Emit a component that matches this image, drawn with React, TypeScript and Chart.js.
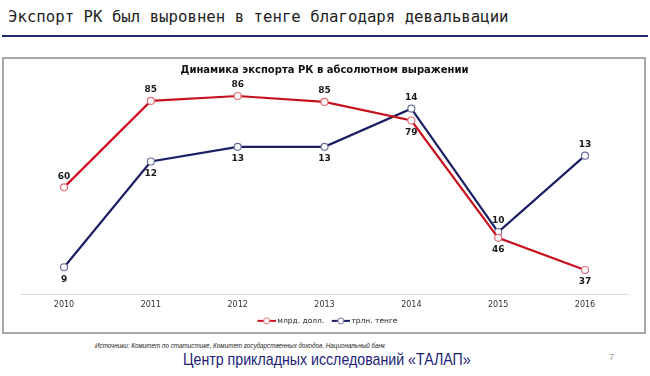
import React, { useEffect, useRef } from "react";
import { Chart, registerables } from "chart.js";

Chart.register(...registerables);

const years = ["2010", "2011", "2012", "2013", "2014", "2015", "2016"];
const usdBn = [60.3, 85.0, 86.4, 84.7, 79.4, 45.9, 36.7];
const kztTrn = [8.8, 12.4, 12.9, 12.9, 14.2, 10.0, 12.6];
const usdLabelSide = ["above", "above", "above", "above", "below", "below", "below"];
const kztLabelSide = ["below", "below", "below", "below", "above", "above", "above"];
const seriesNames = ["млрд. долл.", "трлн. тенге"];

const slideTitle = "Экспорт РК был выровнен в тенге благодаря девальвации";
const chartTitle = "Динамика экспорта РК в абсолютном выражении";
const sourceText = "Источники: Комитет по статистике, Комитет государственных доходов, Национальный банк";
const footerText = "Центр прикладных исследований «ТАЛАП»";
const pageNumber = "7";

const RED = "#c8101e";
const RED_PT = "#e0707a";
const BLUE = "#1b1f63";
const BLUE_PT = "#6c6f9c";

function legendSymbol(line: string, pt: string) {
  const c = document.createElement("canvas");
  c.width = 26;
  c.height = 8;
  const g = c.getContext("2d")!;
  g.strokeStyle = line;
  g.lineWidth = 2;
  g.beginPath();
  g.moveTo(8, 4);
  g.lineTo(26, 4);
  g.stroke();
  g.fillStyle = "#fff";
  g.strokeStyle = pt;
  g.lineWidth = 1;
  g.beginPath();
  g.arc(17, 4, 3, 0, Math.PI * 2);
  g.fill();
  g.stroke();
  return c;
}

const dataLabelPlugin = {
  id: "dataLabels",
  afterDatasetsDraw(chart: any) {
    const ctx = chart.ctx;
    ctx.save();
    ctx.font = "bold 9px 'DejaVu Sans'";
    ctx.fillStyle = "#1a1a1a";
    ctx.textAlign = "center";
    ctx.textBaseline = "middle";
    chart.data.datasets.forEach((ds: any, di: number) => {
      const meta = chart.getDatasetMeta(di);
      const sides = ds.labelSides as string[];
      meta.data.forEach((p: any, i: number) => {
        const v = ds.data[i] as number;
        const dy = sides[i] === "above" ? -11 : 12;
        ctx.fillText(String(Math.round(v)), p.x, p.y + dy);
      });
    });
    ctx.restore();
  },
};

function ChartBox() {
  const ref = useRef<HTMLCanvasElement | null>(null);
  useEffect(() => {
    if (!ref.current) return;
    const symbols = [legendSymbol(RED, RED_PT), legendSymbol(BLUE, BLUE_PT)];
    const chart = new Chart(ref.current, {
      type: "line",
      data: {
        labels: years,
        datasets: [
          {
            label: seriesNames[0],
            data: usdBn,
            yAxisID: "y",
            borderColor: RED,
            borderWidth: 2.2,
            backgroundColor: "#fff",
            pointBackgroundColor: "#fff",
            pointBorderColor: RED_PT,
            pointBorderWidth: 1.2,
            pointRadius: 3.5,
            tension: 0,
            labelSides: usdLabelSide,
          } as any,
          {
            label: seriesNames[1],
            data: kztTrn,
            yAxisID: "y1",
            borderColor: BLUE,
            borderWidth: 2.2,
            backgroundColor: "#fff",
            pointBackgroundColor: "#fff",
            pointBorderColor: BLUE_PT,
            pointBorderWidth: 1.2,
            pointRadius: 3.5,
            tension: 0,
            labelSides: kztLabelSide,
          } as any,
        ],
      },
      options: {
        animation: false,
        responsive: false,
        devicePixelRatio: 1,
        layout: { padding: { left: 18.6, right: 17.6, top: 0, bottom: 3.4 } },
        plugins: {
          title: {
            display: true,
            text: chartTitle,
            color: "#111",
            font: { family: "'DejaVu Sans'", size: 10, weight: "bold", lineHeight: 1.26 },
            padding: { top: 7, bottom: 9.4 },
          },
          legend: {
            display: true,
            position: "bottom",
            labels: {
              color: "#222",
              font: { family: "'DejaVu Sans'", size: 7.5 },
              usePointStyle: true,
              pointStyleWidth: 22,
              padding: 1.5,
              generateLabels(chart: any) {
                const items = Chart.defaults.plugins.legend.labels.generateLabels(chart);
                items.forEach((it: any, i: number) => {
                  it.pointStyle = symbols[i];
                });
                return items;
              },
            },
          },
          tooltip: { enabled: false },
        },
        scales: {
          x: {
            offset: true,
            grid: { display: false, drawTicks: false },
            border: { display: true, color: "#dcdcdc", width: 1 },
            ticks: { color: "#333", font: { family: "'DejaVu Sans'", size: 8 }, padding: 6 },
          },
          y: { display: false, min: 29.84, max: 89.26 },
          y1: { display: false, position: "right", min: 7.89, max: 14.97 },
        },
      },
      plugins: [dataLabelPlugin],
    } as any);
    return () => chart.destroy();
  }, []);
  return (
    <canvas
      ref={ref}
      width={644}
      height={281}
      style={{ position: "absolute", left: 2, top: 57, width: 644, height: 281 }}
    />
  );
}

export default function App() {
  return (
    <div
      style={{
        position: "fixed",
        left: 0,
        top: 0,
        width: 650,
        height: 376,
        background: "#fff",
        overflow: "hidden",
      }}
    >
      <div
        style={{
          position: "absolute",
          left: 8,
          top: 8,
          lineHeight: "18px",
          fontFamily: "'DejaVu Sans Mono', monospace",
          fontSize: 15.7,
          color: "#222",
          whiteSpace: "nowrap",
        }}
      >
        {slideTitle}
      </div>
      <div
        style={{
          position: "absolute",
          left: 2,
          top: 35,
          width: 646,
          height: 2,
          background: "#1c2a6e",
        }}
      />
      <div
        style={{
          position: "absolute",
          left: 2,
          top: 57,
          width: 644,
          height: 277,
          border: "2px solid #a8a8a8",
          boxSizing: "border-box",
        }}
      />
      <ChartBox />
      <div
        style={{
          position: "absolute",
          left: 95,
          top: 341,
          lineHeight: "9px",
          fontFamily: "'Liberation Sans', Arial, sans-serif",
          fontStyle: "italic",
          fontSize: 6.3,
          color: "#222",
          whiteSpace: "nowrap",
        }}
      >
        {sourceText}
      </div>
      <div
        style={{
          position: "absolute",
          left: 183,
          top: 350,
          lineHeight: "20px",
          fontFamily: "'Liberation Sans', Arial, sans-serif",
          fontSize: 17,
          color: "#1d1d78",
          whiteSpace: "nowrap",
          transform: "scaleX(0.835)",
          transformOrigin: "left center",
        }}
      >
        {footerText}
      </div>
      <div
        style={{
          position: "absolute",
          left: 609,
          top: 351,
          lineHeight: "12px",
          fontFamily: "'Liberation Sans', Arial, sans-serif",
          fontSize: 9,
          color: "#999",
        }}
      >
        {pageNumber}
      </div>
    </div>
  );
}
